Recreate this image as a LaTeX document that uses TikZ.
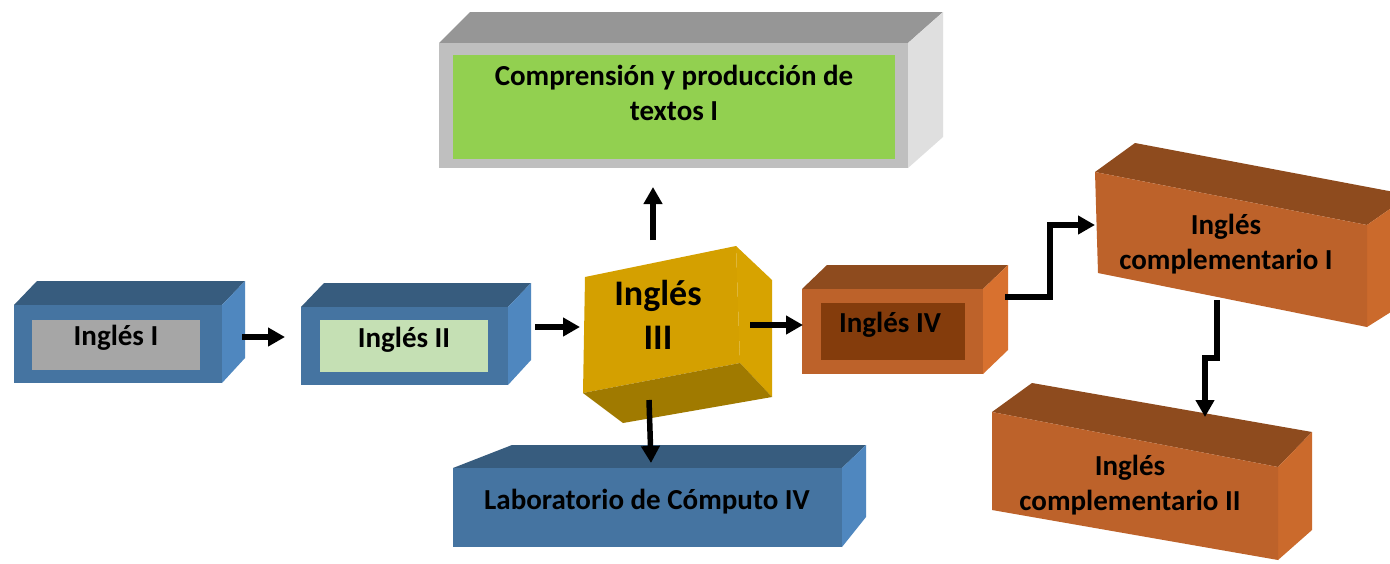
\documentclass[tikz,border=0pt]{standalone}
\usepackage{fontspec}
\setmainfont{Carlito}
\usetikzlibrary{arrows.meta,calc}
\definecolor{blueTop}{HTML}{375C7E}
\definecolor{blueFront}{HTML}{4574A1}
\definecolor{blueSide}{HTML}{4F87BF}
\definecolor{grayIn}{HTML}{A6A6A6}
\definecolor{greenIn}{HTML}{C5E0B4}
\definecolor{goldFront}{HTML}{D4A000}
\definecolor{goldSide}{HTML}{D7A300}
\definecolor{goldBottom}{HTML}{A07A00}
\definecolor{orTop}{HTML}{8E4B1E}
\definecolor{orFront}{HTML}{BD622A}
\definecolor{orSide}{HTML}{D8712F}
\definecolor{orSideB}{HTML}{CB6A2C}
\definecolor{orIn}{HTML}{843C0C}
\definecolor{grTop}{HTML}{969696}
\definecolor{grFront}{HTML}{BFBFBF}
\definecolor{grSide}{HTML}{DFDFDF}
\definecolor{limeIn}{HTML}{92D050}
\begin{document}
\begin{tikzpicture}[x=1pt,y=-1pt,
  lbl/.style={font=\fontsize{29pt}{35pt}\selectfont\bfseries, align=center, inner sep=0pt, text=black},
  biglbl/.style={font=\fontsize{36pt}{44pt}\selectfont\bfseries, align=center, inner sep=0pt, text=black},
  arr/.style={line width=5.5pt, -{Triangle[length=17pt,width=18pt]}}]
\useasboundingbox (0,0) rectangle (1390,563);
\fill[white] (0,0) rectangle (1390,563);

% Comprension box (top)
\fill[grTop] (439,43) -- (470,12) -- (943,12) -- (908,43) -- cycle;
\fill[grSide] (908,43) -- (943,12) -- (943,137) -- (908,168) -- cycle;
\fill[grFront] (439,43) rectangle (908,168);
\fill[limeIn] (453,55) rectangle (895,159);
\node[lbl] (top) at (674,93) {Comprensión y producción de\\textos I};

% Ingles I
\fill[blueTop] (14,305) -- (37,281) -- (245,281) -- (222,305) -- cycle;
\fill[blueSide] (222,305) -- (245,281) -- (245,358) -- (222,383) -- cycle;
\fill[blueFront] (14,305) rectangle (222,383);
\fill[grayIn] (32,320) rectangle (200,370);
\node[lbl] (b1) at (116,338) {Inglés I};

% Ingles II
\fill[blueTop] (301,307) -- (324,283) -- (531,283) -- (508,307) -- cycle;
\fill[blueSide] (508,307) -- (531,283) -- (531,360) -- (508,385) -- cycle;
\fill[blueFront] (301,307) rectangle (508,385);
\fill[greenIn] (320,320) rectangle (488,372);
\node[lbl] (b2) at (404,340) {Inglés II};

% Ingles III
\fill[goldFront] (585,277) -- (736,246) -- (740,363) -- (583,393) -- cycle;
\fill[goldSide] (736,246) -- (772,280) -- (772,397) -- (740,363) -- cycle;
\fill[goldBottom] (583,393) -- (740,363) -- (772,397) -- (623,423) -- cycle;
\node[biglbl] (b3) at (658,315) {Inglés\\III};

% Ingles IV
\fill[orTop] (802,289) -- (827,265) -- (1008,265) -- (983,289) -- cycle;
\fill[orSide] (983,289) -- (1008,265) -- (1008,350) -- (983,374) -- cycle;
\fill[orFront] (802,289) rectangle (983,374);
\fill[orIn] (821,303) rectangle (965,360);
\node[lbl] (b4) at (890,325) {Inglés IV};

% Laboratorio
\fill[blueTop] (453,468) -- (512,445) -- (866,445) -- (842,468) -- cycle;
\fill[blueSide] (842,468) -- (866,445) -- (866,517) -- (842,547) -- cycle;
\fill[blueFront] (453,468) rectangle (842,547);
\node[lbl] (lab) at (647,502) {Laboratorio de Cómputo IV};

% Complementario I
\fill[orTop] (1095,172) -- (1135,143) -- (1410,195) -- (1367,225) -- cycle;
\fill[orSideB] (1367,225) -- (1410,195) -- (1410,300) -- (1367,327) -- cycle;
\fill[orFront] (1095,172) -- (1367,225) -- (1367,327) -- (1098,273) -- cycle;
\node[lbl] (c1) at (1226,244) {Inglés\\complementario I};

% Complementario II
\fill[orTop] (992,412) -- (1032,383) -- (1312,432) -- (1278,467) -- cycle;
\fill[orSideB] (1278,467) -- (1312,432) -- (1312,530) -- (1278,560) -- cycle;
\fill[orFront] (992,412) -- (1278,467) -- (1278,560) -- (992,510) -- cycle;
\node[lbl] (c2) at (1130,485) {Inglés\\complementario II};

% connectors
\draw[arr] ($(b1.center)+(126,-1)$) -- ($(b2.center)+(-119,-3)$);
\draw[arr] ($(b2.center)+(131,-13)$) -- ($(b3.center)+(-78,12)$);
\draw[arr] ($(b3.center)+(92,10)$) -- ($(b4.center)+(-87,0)$);
\draw[arr] ($(b3.center)+(-5,-75)$) -- ($(top.center)+(-21,94)$);
\draw[arr] ($(b3.center)+(-9,85)$) -- ($(lab.center)+(4,-39)$);
\draw[arr] ($(b4.center)+(115,-28)$) -- ++(45,0) |- ($(c1.center)+(-131,-19)$);
\draw[arr] ($(c1.center)+(-9,56)$) -- ++(0,58) -| ($(c2.center)+(75,-68)$);
\end{tikzpicture}
\end{document}
